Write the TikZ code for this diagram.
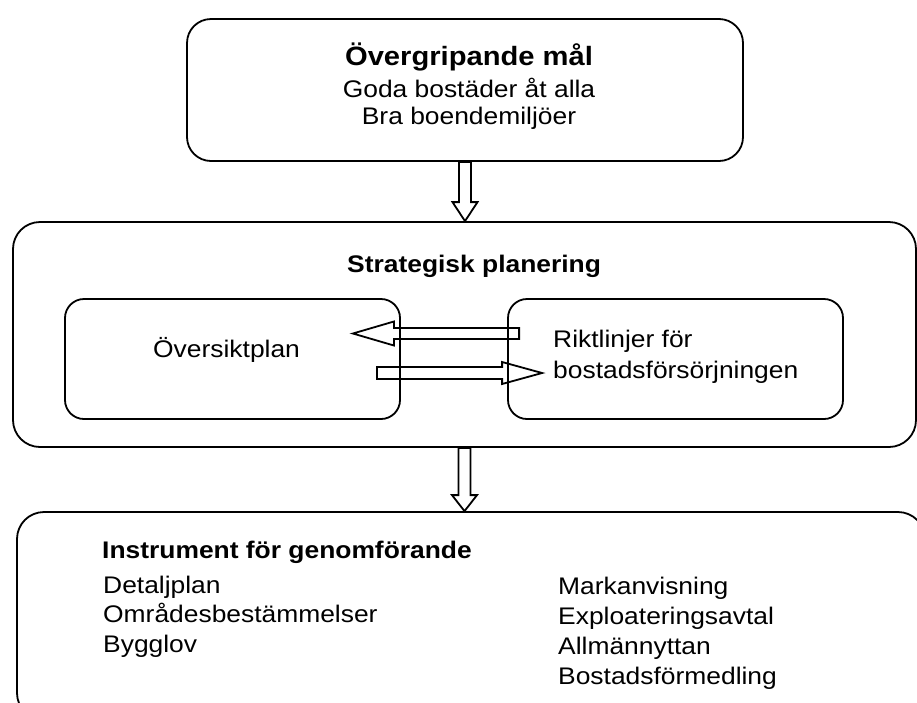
\documentclass[tikz,border=0pt]{standalone}
\usepackage{fontspec}
\setmainfont{Liberation Sans}[FakeStretch=1.1]
\usetikzlibrary{calc}
\tikzset{
  frame/.style  ={draw=black,line width=1.8pt,rounded corners=24pt,inner sep=0pt},
  inbox/.style  ={frame,rounded corners=19pt},
  blk/.style    ={draw=black,line width=1.8pt,line join=miter},
  txt/.style    ={inner sep=0pt,font=\fontsize{24pt}{28pt}\selectfont},
  head/.style   ={inner sep=0pt,font=\fontsize{24pt}{28pt}\selectfont\bfseries},
}
%% hollow block arrow: start, tip, shaft half width, head half width, head length
\newcommand{\blockarrow}[5]{%
  \coordinate (ba-s) at #1;
  \coordinate (ba-t) at #2;
  \coordinate (ba-h) at ($(ba-t)!#5!(ba-s)$);
  \draw[blk] ($(ba-s)!#3!90:(ba-t)$) -- ($(ba-h)!#3!-90:(ba-s)$)
    -- ($(ba-h)!#4!-90:(ba-s)$) -- (ba-t) -- ($(ba-h)!#4!90:(ba-s)$)
    -- ($(ba-h)!#3!90:(ba-s)$) -- ($(ba-s)!#3!-90:(ba-t)$) -- cycle;}
\begin{document}
\begin{tikzpicture}[x=1pt,y=-1pt]
\useasboundingbox (0,0) rectangle (917,702);
\clip (0,0) rectangle (917,702);

% boxes
\node[frame,minimum width=556pt,minimum height=142pt] (goal) at (465,90) {};
\node[frame,minimum width=903pt,minimum height=225pt,rounded corners=27pt] (strat) at (464.5,334.5) {};
\node[inbox,minimum width=335pt,minimum height=120pt] (plan) at (232.5,359) {};
\node[inbox,minimum width=335pt,minimum height=120pt] (riktl) at (675.5,359) {};
\node[frame,minimum width=908pt,minimum height=208pt,rounded corners=27pt] (instr) at (471,616) {};

% texts
\node[head,font=\fontsize{26.5pt}{30pt}\selectfont\bfseries,anchor=base] (goalhead) at (469,65) {Övergripande mål};
\node[txt,anchor=base] (goal1) at (469,97) {Goda bostäder åt alla};
\node[txt,anchor=base] (goal2) at (469,124) {Bra boendemiljöer};
\node[head,anchor=base west] (strathead) at (347,272) {Strategisk planering};
\node[txt,anchor=base west] (plantxt) at (153,357) {Översiktplan};
\node[txt,anchor=base west] (riktl1) at (553,347) {Riktlinjer för};
\node[txt,anchor=base west] (riktl2) at (553,378) {bostadsförsörjningen};
\node[head,anchor=base west] (instrhead) at (102,558) {Instrument för genomförande};
\foreach \t [count=\i] in {Detaljplan,Områdesbestämmelser,Bygglov}
  \node[txt,anchor=base west] (left\i) at (103,563.5+29.5*\i) {\t};
\foreach \t [count=\i] in {Markanvisning,Exploateringsavtal,Allmännyttan,Bostadsförmedling}
  \node[txt,anchor=base west] (right\i) at (558,564+30*\i) {\t};

% arrows
\blockarrow{(goal.south)}{(goal.south |- strat.north)}{6pt}{12.5pt}{19pt}
\blockarrow{(strat.south)}{(strat.south |- instr.north)}{6pt}{12.5pt}{16pt}
\blockarrow{($(riktl.west)+(12pt,25.5pt)$)}{($(plan.east)+(-48pt,25.5pt)$)}{5.5pt}{12pt}{41pt}
\blockarrow{($(plan.east)+(-24pt,-14pt)$)}{($(riktl.west)+(35pt,-14pt)$)}{6pt}{11pt}{40pt}
\end{tikzpicture}
\end{document}
